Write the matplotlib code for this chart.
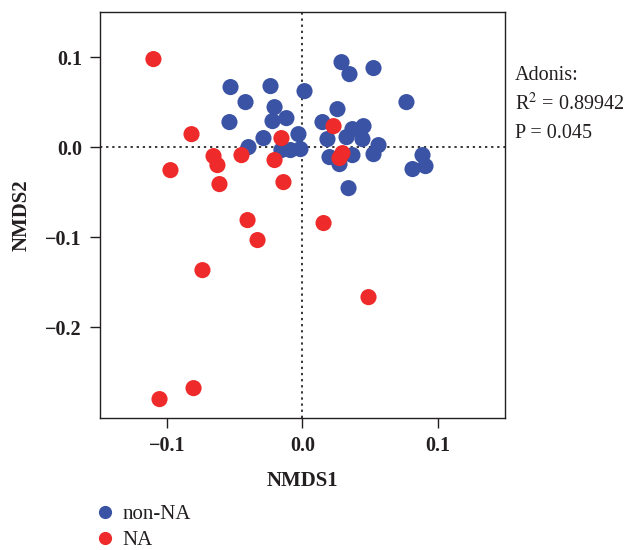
import matplotlib
matplotlib.use("Agg")
import matplotlib.pyplot as plt
from matplotlib.lines import Line2D

plt.rcParams['font.family'] = ['Liberation Serif', 'DejaVu Serif']
plt.rcParams['mathtext.fontset'] = 'stix'

# non-NA group (blue)
nonna_x = [-0.0533, -0.0237, 0.0015, -0.0422, -0.0207, -0.0119, -0.0222, -0.0541,
           -0.0289, -0.0030, -0.0400, -0.0156, -0.0089, -0.0015, 0.0289, 0.0348,
           0.0526, 0.0770, 0.0259, 0.0148, 0.0370, 0.0452, 0.0326, 0.0185,
           0.0444, 0.0563, 0.0526, 0.0370, 0.0200, 0.0274, 0.0889, 0.0911,
           0.0815, 0.0341]
nonna_y = [0.0667, 0.0678, 0.0622, 0.0500, 0.0444, 0.0322, 0.0289, 0.0278,
           0.0100, 0.0144, 0.0000, -0.0033, -0.0033, -0.0022, 0.0944, 0.0811,
           0.0878, 0.0500, 0.0422, 0.0278, 0.0200, 0.0233, 0.0111, 0.0089,
           0.0089, 0.0022, -0.0078, -0.0089, -0.0111, -0.0189, -0.0089, -0.0211,
           -0.0244, -0.0456]

# NA group (red)
na_x = [-0.1104, -0.0822, -0.0978, -0.0659, -0.0630, -0.0615, -0.0452, -0.0407,
        -0.0333, -0.0741, -0.0807, -0.1059, -0.0207, -0.0156, -0.0141, 0.0230,
        0.0296, 0.0274, 0.0156, 0.0489]
na_y = [0.0978, 0.0144, -0.0256, -0.0100, -0.0200, -0.0411, -0.0089, -0.0811,
        -0.1033, -0.1367, -0.2678, -0.2800, -0.0144, 0.0100, -0.0389, 0.0233,
        -0.0067, -0.0122, -0.0844, -0.1667]

xticks = [-0.1, 0.0, 0.1]
yticks = [-0.2, -0.1, 0.0, 0.1]
tick_labels_x = ['\u22120.1', '0.0', '0.1']
tick_labels_y = ['\u22120.2', '\u22120.1', '0.0', '0.1']

blue = '#3a53a4'
red = '#ee2a2a'
ink = '#231f20'

fig = plt.figure(figsize=(6.3, 5.5), dpi=100)
ax = fig.add_axes([0.1587, 0.24, 0.6429, 0.738])

ax.axhline(0, color='black', linestyle=(0, (1.5, 2.5)), linewidth=1.1, zorder=1)
ax.axvline(0, color='black', linestyle=(0, (1.5, 2.5)), linewidth=1.1, zorder=1)

ax.scatter(nonna_x, nonna_y, s=135, color=blue, edgecolors='none', zorder=3)
ax.scatter(na_x, na_y, s=135, color=red, edgecolors='none', zorder=4)

ax.set_xlim(-0.15, 0.15)
ax.set_ylim(-0.301, 0.15)
ax.set_xticks(xticks)
ax.set_xticklabels(tick_labels_x, fontsize=14.5, fontweight='bold', color=ink)
ax.set_yticks(yticks)
ax.set_yticklabels(tick_labels_y, fontsize=14.5, fontweight='bold', color=ink)
ax.tick_params(direction='out', length=7, width=1, colors=ink, pad=6)
for sp in ax.spines.values():
    sp.set_color(ink)
    sp.set_linewidth(1.0)

ax.set_xlabel('NMDS1', fontsize=15, fontweight='bold', color=ink, labelpad=11)
ax.set_ylabel('NMDS2', fontsize=15, fontweight='bold', color=ink, labelpad=10)

fig.text(515 / 630, 1 - 75 / 550, 'Adonis:', fontsize=14.5, color=ink, va='center', ha='left')
fig.text(515 / 630, 1 - 104 / 550, r'R$^2$ = 0.89942', fontsize=14.5, color=ink, va='center', ha='left')
fig.text(515 / 630, 1 - 134 / 550, 'P = 0.045', fontsize=14.5, color=ink, va='center', ha='left')

handles = [Line2D([], [], marker='o', linestyle='none', markersize=9.5, color=blue, markeredgewidth=0),
           Line2D([], [], marker='o', linestyle='none', markersize=9.5, color=red, markeredgewidth=0)]
fig.legend(handles, ['non-NA', 'NA'], loc='upper left', bbox_to_anchor=(0.135, 0.098),
           frameon=False, fontsize=15, handletextpad=0.3, labelspacing=0.32,
           borderaxespad=0, handlelength=1.1, labelcolor=ink)

fig.savefig('out.png', dpi=100)
